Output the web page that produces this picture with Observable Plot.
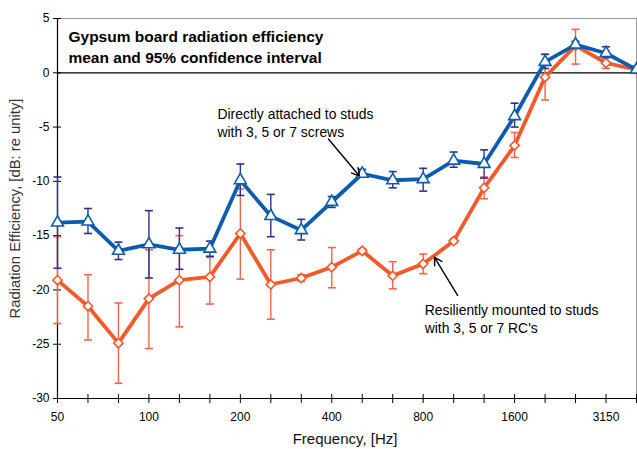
<!DOCTYPE html>
<html>
<head>
<meta charset="utf-8">
<script src="https://cdn.jsdelivr.net/npm/d3@7"></script>
<script src="https://cdn.jsdelivr.net/npm/@observablehq/plot@0.6"></script>
<style>
  html, body { margin: 0; padding: 0; background: #fff; }
</style>
</head>
<body>
<div id="chart"></div>
<script>
// 1/3-octave band centre frequencies (Hz)
const freqs = ["50","63","80","100","125","160","200","250","315","400","500","630","800","1000","1250","1600","2000","2500","3150","4000"];
const tickLabels = ["50","100","200","400","800","1600","3150"];
const yTicks = [-30,-25,-20,-15,-10,-5,0,5];

// Directly attached to studs (mean, 95% CI upper/lower), dB
const directMean  = [-13.8,-13.7,-16.4,-15.8,-16.3,-16.2,-9.9,-13.2,-14.5,-11.9,-9.3,-9.9,-9.8,-8.1,-8.4,-4.0,1.0,2.6,1.8,0.3];
const directUpper = [-9.6,-12.5,-15.6,-12.7,-14.3,-15.5,-8.4,-11.2,-13.5,-11.4,-8.9,-9.1,-8.8,-7.3,-7.1,-2.8,1.7,2.9,2.4,0.6];
const directLower = [-18.0,-14.8,-17.2,-18.9,-18.1,-16.9,-11.3,-15.1,-15.4,-12.4,-9.6,-10.6,-10.9,-8.7,-9.7,-5.0,0.4,2.3,1.4,0.0];

// Resiliently mounted to studs (mean, 95% CI upper/lower), dB
const resilMean  = [-19.1,-21.5,-24.9,-20.8,-19.1,-18.8,-14.8,-19.5,-18.9,-17.9,-16.4,-18.7,-17.6,-15.5,-10.6,-6.7,-0.4,2.5,0.9,0.3];
const resilUpper = [-15.1,-18.6,-21.2,-16.3,-15.0,-17.0,-10.7,-16.3,-18.6,-16.1,-16.2,-17.4,-16.7,-15.3,-9.6,-5.5,1.7,4.0,1.4,0.5];
const resilLower = [-23.1,-24.6,-28.6,-25.4,-23.4,-21.3,-19.0,-22.7,-19.2,-19.8,-16.6,-19.9,-18.5,-15.7,-11.6,-7.8,-2.5,0.8,0.4,0.1];

const titleText = "Gypsum board radiation efficiency\nmean and 95% confidence interval";
const note1 = "Directly attached to studs\nwith 3, 5 or 7 screws";
const note2 = "Resiliently mounted to studs\nwith 3, 5 or 7 RC's";
const xLabel = "Frequency, [Hz]";
const yLabel = "Radiation Efficiency, [dB: re unity]";

const direct = freqs.map((f, i) => ({i, f, mean: directMean[i], hi: directUpper[i], lo: directLower[i]}));
const resil  = freqs.map((f, i) => ({i, f, mean: resilMean[i], hi: resilUpper[i], lo: resilLower[i]}));
const idx = freqs.map((f, i) => i);

const cap = {draw(ctx, size) { const w = Math.sqrt(size / Math.PI); ctx.moveTo(-w, 0); ctx.lineTo(w, 0); }};

const blue = "#0b5cad", blueErr = "#2e3192", orange = "#f15a29", orangeErr = "#f2654a";

const errMarks = (data, color) => [
  Plot.ruleX(data, {x: "i", y1: "lo", y2: "hi", stroke: color, strokeWidth: 1.4}),
  Plot.dot(data, {x: "i", y: "hi", symbol: cap, r: 4, stroke: color, strokeWidth: 1.6, fill: "none"}),
  Plot.dot(data, {x: "i", y: "lo", symbol: cap, r: 4, stroke: color, strokeWidth: 1.6, fill: "none"})
];

const chart = Plot.plot({
  width: 637,
  height: 449,
  marginLeft: 57,
  marginRight: 1,
  marginTop: 18,
  marginBottom: 51,
  style: {fontFamily: "Arial, 'Liberation Sans', sans-serif", fontSize: "12px", background: "#fff", color: "#000"},
  x: {type: "linear", domain: [0, freqs.length - 1]},
  y: {domain: [yTicks[0], yTicks[yTicks.length - 1]]},
  marks: [
    Plot.frame({stroke: "#9a9a9a"}),
    Plot.axisX({ticks: idx, tickFormat: i => tickLabels.includes(freqs[i]) ? freqs[i] : "", tickSize: 9, dy: -4, tickPadding: 9, label: null, stroke: "#000", fill: "#000"}),
    Plot.axisY({ticks: yTicks, tickFormat: d => String(d), tickSize: 8, dx: 4, tickPadding: 4, label: null, stroke: "#000", fill: "#000"}),
    Plot.ruleY([yTicks[0]], {stroke: "#000", strokeWidth: 1.2}),
    Plot.ruleX([0], {stroke: "#000", strokeWidth: 1.2}),
    Plot.ruleY([0], {stroke: "#000", strokeWidth: 1.2}),
    ...errMarks(resil, orangeErr),
    Plot.line(resil, {x: "i", y: "mean", stroke: orange, strokeWidth: 3.8}),
    Plot.dot(resil, {x: "i", y: "mean", symbol: "diamond2", r: 4.2, stroke: orange, strokeWidth: 1.6, fill: "#fff"}),
    ...errMarks(direct, blueErr),
    Plot.line(direct, {x: "i", y: "mean", stroke: blue, strokeWidth: 3.8}),
    Plot.dot(direct, {x: "i", y: "mean", symbol: "triangle", r: 4.4, stroke: blue, strokeWidth: 1.6, fill: "#fff"}),
    Plot.text([titleText], {x: 0.36, y: 2.53, textAnchor: "start", lineAnchor: "middle", fontWeight: "bold", fontSize: 15.5, lineHeight: 1.36, fill: "#000"}),
    Plot.text([note1], {x: 5.25, y: -4.55, textAnchor: "start", lineAnchor: "middle", fontSize: 13.9, lineHeight: 1.33, fill: "#000"}),
    Plot.text([note2], {x: 12.05, y: -22.6, textAnchor: "start", lineAnchor: "middle", fontSize: 13.9, lineHeight: 1.33, fill: "#000"}),
    Plot.arrow([{x1: 8.89, y1: -6.1, x2: 9.91, y2: -9.5}], {x1: "x1", y1: "y1", x2: "x2", y2: "y2", stroke: "#000", strokeWidth: 1.4, headLength: 9}),
    Plot.arrow([{x1: 13.13, y1: -20.5, x2: 12.37, y2: -17.0}], {x1: "x1", y1: "y1", x2: "x2", y2: "y2", stroke: "#000", strokeWidth: 1.4, headLength: 9}),
    Plot.text([xLabel], {frameAnchor: "bottom", dy: 41, dx: -2, textAnchor: "middle", lineAnchor: "middle", fontSize: 15, fill: "#111"}),
    Plot.text([yLabel], {frameAnchor: "left", dx: -42, rotate: -90, textAnchor: "middle", lineAnchor: "middle", fontSize: 14.8, fill: "#333"})
  ]
});
document.getElementById("chart").appendChild(chart);
</script>
</body>
</html>
